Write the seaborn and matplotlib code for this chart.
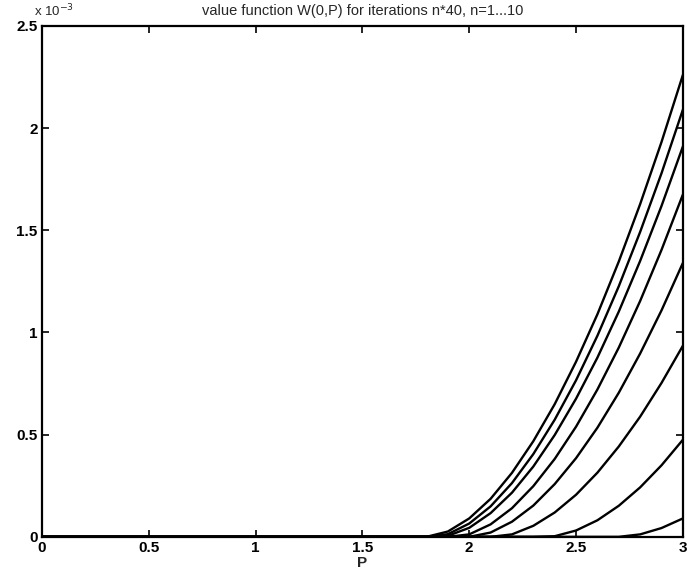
import numpy as np
import pandas as pd
import matplotlib
matplotlib.use("Agg")
import matplotlib.pyplot as plt
import seaborn as sns

# Valores (eixo y em unidades de 1e-3)
P = [0.0, 1.7, 1.8, 1.9, 2.0, 2.1, 2.2, 2.3, 2.4, 2.5, 2.6, 2.7, 2.8, 2.9, 3.0]

W_it1 = [0, 0, 0, 0.026, 0.090, 0.186, 0.313, 0.468, 0.649, 0.857, 1.089, 1.347, 1.628, 1.932, 2.26]
W_it2 = [0, 0, 0, 0.013, 0.065, 0.149, 0.263, 0.405, 0.573, 0.766, 0.984, 1.226, 1.492, 1.779, 2.09]
W_it3 = [0, 0, 0, 0.005, 0.044, 0.116, 0.216, 0.344, 0.498, 0.676, 0.877, 1.102, 1.350, 1.619, 1.91]
W_it4 = [0, 0, 0, 0, 0.012, 0.061, 0.140, 0.248, 0.381, 0.539, 0.721, 0.926, 1.154, 1.404, 1.675]
W_it5 = [0, 0, 0, 0, 0, 0.021, 0.074, 0.153, 0.258, 0.385, 0.534, 0.705, 0.897, 1.108, 1.34]
W_it6 = [0, 0, 0, 0, 0, 0, 0.012, 0.054, 0.119, 0.206, 0.314, 0.442, 0.588, 0.753, 0.935]
W_it7 = [0, 0, 0, 0, 0, 0, 0, 0, 0.003, 0.031, 0.081, 0.152, 0.242, 0.350, 0.475]
W_it8 = [0, 0, 0, 0, 0, 0, 0, 0, 0, 0, 0, 0, 0.012, 0.043, 0.09]

curves = [W_it1, W_it2, W_it3, W_it4, W_it5, W_it6, W_it7, W_it8]

xticks = [0, 0.5, 1, 1.5, 2, 2.5, 3]
xticklabels = ["0", "0.5", "1", "1.5", "2", "2.5", "3"]
yticks = [0, 0.5, 1, 1.5, 2, 2.5]
yticklabels = ["0", "0.5", "1", "1.5", "2", "2.5"]

# montar dataframe longo
rows = []
for i, w in enumerate(curves):
    for p, v in zip(P, w):
        rows.append({"P": p, "W": v, "iter": i})
df = pd.DataFrame(rows)

sns.set_theme(style="ticks")
plt.rcParams["font.family"] = ["Liberation Sans", "DejaVu Sans"]

fig = plt.figure(figsize=(6.87, 5.76), dpi=100)
ax = fig.add_axes([0.061, 0.068, 0.933, 0.887])

sns.lineplot(data=df, x="P", y="W", hue="iter", units="iter", estimator=None,
             palette=["black"] * len(curves), legend=False, linewidth=1.7, ax=ax)

ax.set_xlim(0, 3)
ax.set_ylim(0, 2.5)
ax.set_xticks(xticks)
ax.set_xticklabels(xticklabels)
ax.set_yticks(yticks)
ax.set_yticklabels(yticklabels)
ax.tick_params(direction="in", length=5, width=1.2, top=True, right=True,
               labelsize=11, colors="black", pad=3)
for lab in ax.get_xticklabels() + ax.get_yticklabels():
    lab.set_fontweight("bold")
for s in ax.spines.values():
    s.set_visible(True)
    s.set_linewidth(1.6)
    s.set_color("black")

ax.set_xlabel("P", fontsize=11, fontweight="bold", labelpad=1)
ax.set_ylabel("")
ax.set_title("value function W(0,P) for iterations n*40, n=1...10", fontsize=10.5, pad=8)
# fator de escala no canto superior esquerdo, como no MATLAB
ax.text(-0.012, 1.012, r"x 10$^{-3}$", transform=ax.transAxes, fontsize=9.5,
        ha="left", va="bottom")

fig.savefig("out.png", dpi=100)
